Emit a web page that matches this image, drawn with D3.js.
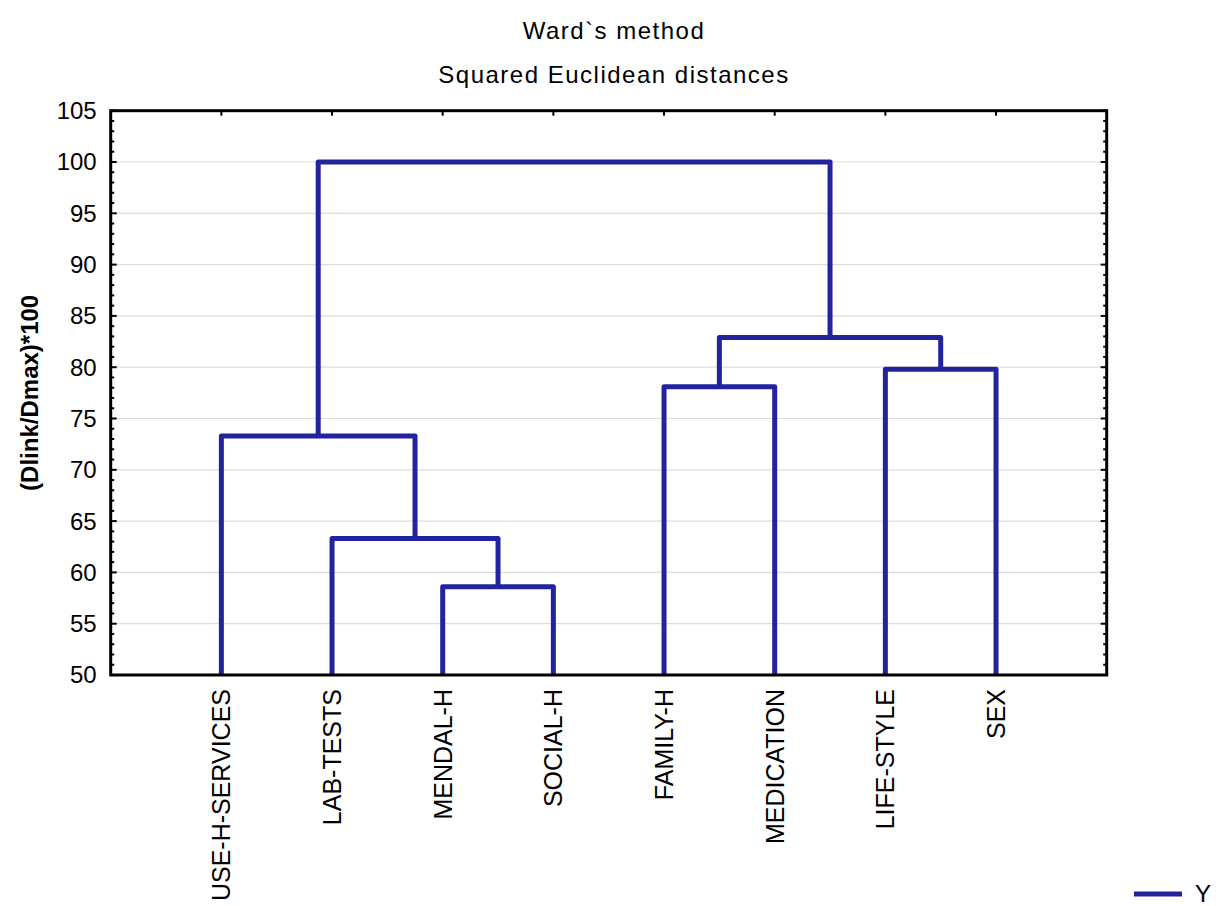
<!DOCTYPE html>
<html>
<head>
<meta charset="utf-8">
<script src="https://cdn.jsdelivr.net/npm/d3@7"></script>
<style>
  html, body { margin: 0; padding: 0; background: #fff; }
  svg { display: block; font-family: "Liberation Sans", Arial, sans-serif; }
</style>
</head>
<body>
<svg id="chart" width="1216" height="906"></svg>
<script>
// Leaf variables, in dendrogram order
const leaves = ["USE-H-SERVICES", "LAB-TESTS", "MENDAL-H", "SOCIAL-H",
                "FAMILY-H", "MEDICATION", "LIFE-STYLE", "SEX"];

// Linkage steps: clusters 0..7 are leaves, each step creates cluster 8, 9, ...
const linkLeft   = [2, 1, 0, 4, 6, 11, 10];
const linkRight  = [3, 8, 9, 5, 7, 12, 13];
const linkHeight = [58.6, 63.3, 73.3, 78.1, 79.8, 82.9, 100];

// Axis ticks
const yTicks = [50, 55, 60, 65, 70, 75, 80, 85, 90, 95, 100, 105];
const yMinorTicks = d3.range(50, 106, 1);

const titleLines = ["Ward`s method", "Squared Euclidean distances"];
const yLabel = "(Dlink/Dmax)*100";
const legendLabel = "Y";

const lineColor = "#2323a0";

const svg = d3.select("#chart");
const plotL = 110.7, plotR = 1106.7, plotT = 110.7, plotB = 675;

const x = d3.scaleLinear().domain([0, leaves.length + 1]).range([plotL, plotR]);
const y = d3.scaleLinear().domain([50, 105]).range([plotB, plotT]);

// Titles
svg.selectAll("text.title").data(titleLines).join("text")
  .attr("class", "title")
  .attr("x", 614).attr("y", (d, i) => 39 + i * 44)
  .attr("text-anchor", "middle")
  .attr("font-size", 24).attr("letter-spacing", 1.5)
  .attr("fill", "#000")
  .text(d => d);

// Gridlines
svg.append("g").selectAll("line").data(yTicks.filter(v => v > 50 && v < 105)).join("line")
  .attr("x1", plotL).attr("x2", plotR)
  .attr("y1", d => y(d)).attr("y2", d => y(d))
  .attr("stroke", "#dcdcdc").attr("stroke-width", 1.2);

// Cluster positions
const pos = leaves.map((name, i) => ({ x: x(i + 1), h: 50 }));
const segs = [];
linkLeft.forEach((a, i) => {
  const b = linkRight[i], h = linkHeight[i];
  const A = pos[a], B = pos[b];
  segs.push({ x1: A.x, h1: A.h, x2: B.x, h2: B.h, h });
  pos.push({ x: (A.x + B.x) / 2, h });
});

svg.append("g").selectAll("path").data(segs).join("path")
  .attr("d", d => `M${d.x1},${y(d.h1)}V${y(d.h)}H${d.x2}V${y(d.h2)}`)
  .attr("fill", "none")
  .attr("stroke", lineColor).attr("stroke-width", 5)
  .attr("stroke-linejoin", "round");

// Frame with inward ticks
const frame = svg.append("g").attr("stroke", "#000");
frame.append("rect")
  .attr("x", plotL).attr("y", plotT).attr("width", plotR - plotL).attr("height", plotB - plotT)
  .attr("fill", "none").attr("stroke-width", 3);

const tickLen = v => (v % 5 === 0 ? 6 : 3.5);
frame.selectAll("line.yl").data(yMinorTicks).join("line")
  .attr("class", "yl")
  .attr("x1", plotL).attr("x2", d => plotL + tickLen(d))
  .attr("y1", d => y(d)).attr("y2", d => y(d)).attr("stroke-width", 2);
frame.selectAll("line.yr").data(yMinorTicks).join("line")
  .attr("class", "yr")
  .attr("x1", plotR).attr("x2", d => plotR - tickLen(d))
  .attr("y1", d => y(d)).attr("y2", d => y(d)).attr("stroke-width", 2);
frame.selectAll("line.xt").data(leaves).join("line")
  .attr("class", "xt")
  .attr("x1", (d, i) => x(i + 1)).attr("x2", (d, i) => x(i + 1))
  .attr("y1", plotT).attr("y2", plotT + 5).attr("stroke-width", 2);

// Y tick labels
svg.append("g").selectAll("text").data(yTicks).join("text")
  .attr("x", plotL - 14).attr("y", d => y(d))
  .attr("dy", "0.35em")
  .attr("text-anchor", "end")
  .attr("font-size", 24).attr("fill", "#000")
  .text(d => d);

// Leaf labels (vertical)
svg.append("g").selectAll("text").data(leaves).join("text")
  .attr("transform", (d, i) => `translate(${x(i + 1) + 9},${plotB + 14}) rotate(-90)`)
  .attr("text-anchor", "end")
  .attr("font-size", 25).attr("fill", "#000")
  .text(d => d);

// Y axis label
svg.append("text")
  .attr("transform", `translate(${38},${(plotT + plotB) / 2}) rotate(-90)`)
  .attr("text-anchor", "middle")
  .attr("font-size", 24).attr("font-weight", "bold").attr("fill", "#000")
  .text(yLabel);

// Legend
svg.append("line")
  .attr("x1", 1134).attr("x2", 1182).attr("y1", 894).attr("y2", 894)
  .attr("stroke", lineColor).attr("stroke-width", 5);
svg.append("text")
  .attr("x", 1195).attr("y", 902)
  .attr("font-size", 24).attr("fill", "#000")
  .text(legendLabel);
</script>
</body>
</html>
